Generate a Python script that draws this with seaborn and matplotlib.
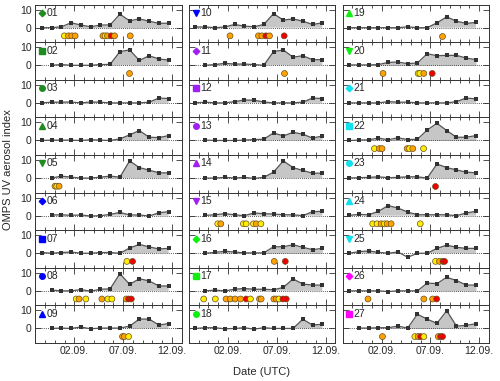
import matplotlib
matplotlib.use("Agg")
import matplotlib.pyplot as plt
import matplotlib.dates as mdates
import seaborn as sns
import pandas as pd

# OMPS UV aerosol index per site, one value per day (overpass ~16 UTC)
origin = pd.Timestamp("2023-08-29")
series_end = pd.Timestamp("2023-09-11 16:00")

site_ids = [f"{i:02d}" for i in range(1, 28)]
series_start = [
    "08-29", "08-30", "08-29", "08-29", "08-30", "08-30", "08-29", "08-30", "08-30",
    "08-29", "08-30", "08-29", "08-30", "08-30", "08-30", "08-30", "08-30", "08-29",
    "08-29", "08-29", "08-29", "08-29", "08-29", "08-29", "08-29", "08-29", "08-30",
]
ai_values = [
    [0, 0, 0.5, 2.7, 1.5, 0.5, 1.5, 1.5, 7.5, 3.8, 4.9, 3.6, 2.4, 2.5],
    [0, 0.4, 0, 0, 0, 0.4, 0.5, 7.6, 8.5, 2.7, 5.3, 3.5, 2.9],
    [0, 0.4, 0.4, 0.5, 0, 0.5, 0.4, 0, 0, 0, 0, 0.4, 2.7, 2.4],
    [0, 0.2, 0.2, 0.2, 0, 0.4, 0.2, 0, 0.9, 3.1, 5.5, 1.8, 1.6, 2.7],
    [0, 1.1, 0.5, 0, 0, 0.5, 1.1, 0.5, 9.5, 5.8, 4.4, 2.9, 2.9],
    [0.4, 0.5, 0.2, 0.4, -0.2, 0, 0.7, 1.8, 0.4, 0.4, -0.2, 1.6, 2.2],
    [0.4, 0, 0.4, 0.7, 0, 0, 0.4, 0.4, 0, 2.9, 4.9, 3.5, 2.4, 2.7],
    [0.4, 0, 0, 0.7, -0.2, 0.9, 1.1, 9.5, 3.6, 6.7, 5.5, 2.7, 2.7],
    [0, 0.2, 0, 0.8, -0.2, 0.2, 0.2, 0.2, 1.3, 5.2, 5.2, 1.9, 2.7],
    [0.4, 0.4, 0, 0.4, 1.8, 0.9, 0.5, 1.8, 7.8, 4.2, 4.9, 3.6, 1.8, 2.7],
    [0, 0.4, 1.1, 0.7, 0.7, 0.4, 0, 7.6, 8.5, 4.5, 5.3, 3.1, 3.1],
    [0, 0.4, 0, 0, 0.7, 1.6, 1.5, 0.5, 0, 0, 0, 0.4, 2.7, 2.4],
    [0.2, 0, 0, 0, 0.2, 0.5, 0.7, 4.2, 2.5, 4.5, 3.5, 1.3, 2.5],
    [0, 0, 0.4, 0, 0.4, -0.2, 0.4, 3.3, 9.5, 5.8, 4.2, 2.7, 2.7],
    [0.2, 0.5, 1.1, 0.5, 0, 1.5, 1.1, 0.9, 0.5, 0.5, 0, 2.2, 2.4],
    [0, 0.5, 1.1, 0.7, 0.2, 0.2, 0.2, 3.6, 3.6, 4.7, 3.3, 2.0, 2.7],
    [0, 0.4, 0, 0.9, 1.3, 0.9, 0.9, 0.6, 1.9, 6.6, 3.8, 3.2, 3.2],
    [0, 0.4, 0.4, -0.2, 0, 0.4, -0.4, 0.4, 0, 0, 0, 5.1, 1.9, 2.3],
    [0, 0, 0, 0, 0, 0, 0.5, 0, 0, 2.7, 6.0, 3.6, 2.4, 2.9],
    [0.2, 0.2, 0.2, 0.4, 1.6, 1.8, 0.9, 1.3, 6.4, 5.3, 5.5, 5.5, 4.0, 3.1],
    [0, 0, 0, 0, 0.7, 0.4, 0.4, 0, 0, 0, 0, 0.7, 2.7, 2.2],
    [0, 0.2, 0.4, 1.3, 0.4, 1.5, 0.5, 0.7, 5.8, 9.5, 5.5, 1.8, 1.8, 2.7],
    [0, 0.2, 0.4, 0.7, 0.2, 0.4, 0.7, 0.7, 0, 7.8, 5.8, 4.5, 3.3, 2.9],
    [0.2, 0.7, 0.5, 2.4, 5.6, 4.2, 2.0, 0.5, 0.5, 0.5, 0.5, 0, 1.5, 2.4],
    [0, 0.9, 1.3, 0.5, 0, 0.7, -2.2, 0, 0, 2.7, 4.5, 3.3, 2.7, 2.7],
    [0, 0, 0, 0, -0.4, 0, 0, 0, 4.3, 4.0, 7.5, 5.7, 3.2, 3.2],
    [0.2, 0.2, 0.4, 0.4, 1.3, 0.2, 7.9, 5.1, 2.8, 9.8, 1.3, 1.7, 2.6],
]

# events: days since origin and class (y = low, o = medium, r = high)
event_days = [
    [2.98, 3.4, 3.74, 4.08, 6.93, 7.16, 7.4, 7.78, 8.12, 9.73],
    [9.56], [], [], [2.02, 2.2, 2.44], [], [9.39, 9.97],
    [4.19, 4.49, 5.18, 6.82, 7.44, 7.85, 9.32, 9.56, 9.84],
    [8.94, 9.12, 9.56],
    [4.21, 7.12, 7.47, 7.88, 8.25, 9.76],
    [9.7], [], [], [],
    [2.95, 3.26, 5.58, 5.86, 6.61, 6.89, 7.37],
    [8.74, 9.87],
    [1.51, 2.7, 3.8, 4.25, 4.73, 5.28, 5.86, 6.3, 7.23, 7.4, 8.7, 8.94, 9.22, 9.63, 9.97],
    [],
    [10.14],
    [4.14, 7.74, 7.91, 8.32, 9.18],
    [],
    [3.26, 3.77, 4.04, 6.61, 6.85, 7.19, 8.29],
    [9.42],
    [3.08, 3.53, 3.94, 4.28, 4.56, 4.97, 7.95],
    [9.52, 9.93, 10.28, 10.45],
    [2.6, 8.32, 9.22, 9.63],
    [4.08, 7.4, 7.74, 7.99, 8.32, 9.8, 10.04, 10.24],
]
event_class = [
    "yooooyoroo", "o", "", "", "oyo", "", "yr", "yoyoyyorr", "ooy",
    "oooror", "o", "", "", "", "yoyyyoy", "or", "yyooooryooooyrr", "",
    "o", "oyyor", "", "yoooyoy", "r", "yyoyooy", "yorr", "ooor", "oyoryorr",
]
event_level = -4.5

group_colors = ["#1e8c1e", "#0000ff", "#a020f0", "#11ee11", "#11e0ee", "#ff00ff"]
label_markers = ["D", "s", "o", "^", "v"]
event_palette = {"y": "#ffee00", "o": "#ffa200", "r": "#ee0000"}

sns.set_style("ticks")
plt.rcParams["font.family"] = ["Liberation Sans", "DejaVu Sans"]

fig, axes = plt.subplots(9, 3, figsize=(5, 3.81), dpi=100, sharex=True, sharey=True)
fig.subplots_adjust(left=0.0706, right=0.978, top=0.988, bottom=0.1, wspace=0.05, hspace=0)

for k, sid in enumerate(site_ids):
    col, row = divmod(k, 9)
    ax = axes[row, col]
    times = pd.date_range(f"2023-{series_start[k]} 16:00", series_end, freq="D")
    df = pd.DataFrame({"time": times, "ai": ai_values[k]})

    sns.lineplot(data=df, x="time", y="ai", ax=ax, color="#555555", linewidth=0.9,
                 marker="s", markersize=2.6, markeredgewidth=0,
                 markerfacecolor="#333333", zorder=3)
    xnum = mdates.date2num(df["time"])
    ax.fill_between(xnum, 0, df["ai"], where=df["ai"] > 0, interpolate=True,
                    color="#c6c6c6", linewidth=0, zorder=1)
    ax.axhline(0, color="#222222", linestyle=(0, (1, 1.5)), linewidth=0.6, zorder=2)

    if event_days[k]:
        ev = pd.DataFrame({
            "time": origin + pd.to_timedelta(event_days[k], unit="D"),
            "level": event_level,
            "cls": list(event_class[k]),
        })
        sns.scatterplot(data=ev, x="time", y="level", hue="cls", palette=event_palette,
                        s=18, edgecolor="#6a5020", linewidth=0.5, legend=False,
                        ax=ax, zorder=4)

    shape = label_markers[k % 5]
    ax.plot(0.045, 0.775, marker=shape, color=group_colors[k // 5],
            markersize=3.3 if shape == "D" else 4, linestyle="none",
            transform=ax.transAxes)
    ax.text(0.075, 0.775, sid, transform=ax.transAxes, va="center", ha="left", fontsize=7.5)

    ax.set_xlabel("")
    ax.set_ylabel("")
    ax.set_xlim(pd.Timestamp("2023-08-29"), pd.Timestamp("2023-09-13"))
    ax.set_ylim(-8, 12.8)
    ax.set_yticks([0, 10])
    ax.xaxis.set_major_locator(mdates.DayLocator(bymonthday=[2, 7, 12]))
    ax.xaxis.set_minor_locator(mdates.DayLocator())
    ax.xaxis.set_major_formatter(mdates.DateFormatter("%d.%m."))
    ax.tick_params(which="both", direction="in", top=True, right=True, width=0.6,
                   color="#333333", labelsize=7.5, pad=2.5)
    ax.tick_params(which="major", length=4)
    ax.tick_params(which="minor", length=2.2)
    for sp in ax.spines.values():
        sp.set_linewidth(0.7)
        sp.set_color("#333333")

fig.text(0.524, 0.024, "Date (UTC)", ha="center", va="center", fontsize=8)
fig.text(0.016, 0.554, "OMPS UV aerosol index", ha="center", va="center",
         rotation=90, fontsize=8)

fig.savefig("out.png", dpi=100)
